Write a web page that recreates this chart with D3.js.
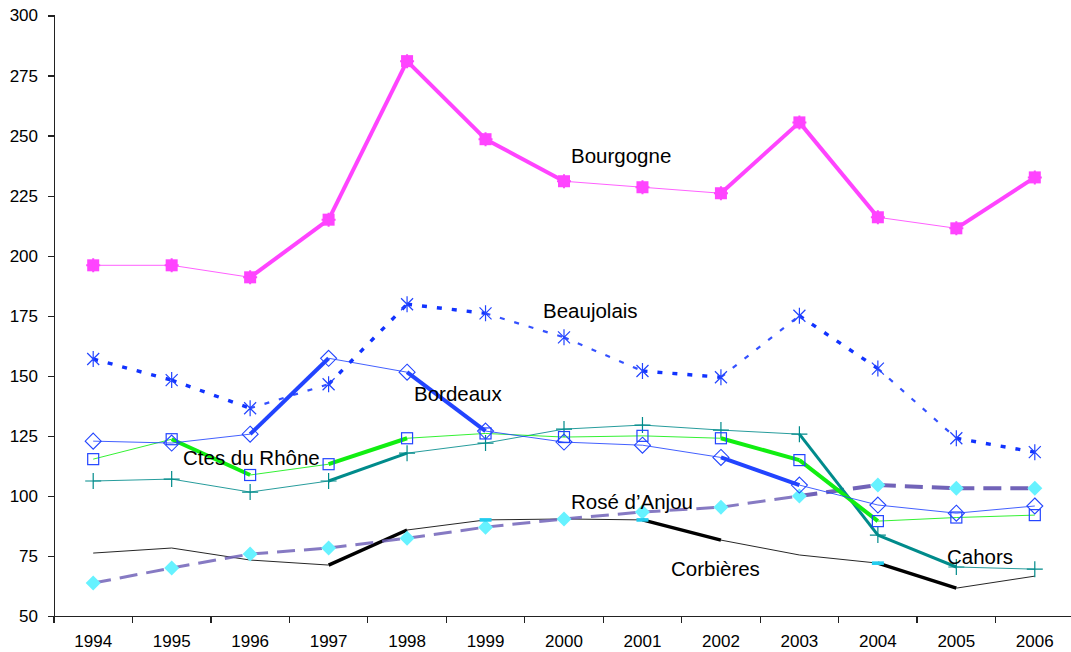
<!DOCTYPE html>
<html>

<head>
  <script type="text/javascript" src="https://d3js.org/d3.v7.min.js"></script>
  <style>
    body { margin: 0; background: #fff; }
    text { font-family: "Liberation Sans", Arial, sans-serif; fill: #000; }
    .axis path, .axis line { stroke: #222; stroke-width: 1.3px; shape-rendering: crispEdges; }
    .axis text { font-size: 17px; }
    .label { font-size: 20.5px; }
  </style>
</head>

<body>
  <script>
    // years on the x axis
    var years = [1994, 1995, 1996, 1997, 1998, 1999, 2000, 2001, 2002, 2003, 2004, 2005, 2006];
    var yTicks = [50, 75, 100, 125, 150, 175, 200, 225, 250, 275, 300];

    // values
    var bourgogne = [196, 196, 191, 215, 281, 248.5, 231, 228.5, 226, 255.5, 216, 211.4, 232.6];
    var beaujolais = [157, 148.2, 136.5, 146.5, 179.8, 176, 166, 152, 149.4, 175, 153, 124, 118.2];
    var bordeaux = [122.8, 122, 125.7, 157.3, 151.5, 127, 122.4, 121.1, 116, 104.5, 96.2, 92.8, 95.8];
    var cotesDuRhone = [115.3, 123.6, 108.7, 113.2, 124, 126, 124.5, 125, 124, 114.9, 89.5, 91, 92];
    var cahors = [106.2, 107, 101.6, 106.2, 117.8, 122, 127.8, 129.5, 127.4, 125.7, 83.7, 70.4, 69.5];
    var corbieres = [76.2, 78.3, 73.3, 71.2, 85.8, 90, 90.4, 90, 81.6, 75.4, 72, 61.6, 66.6];
    var roseAnjou = [63.7, 70, 75.8, 78.3, 82.4, 87, 90.4, 93.3, 95.3, 100, 104.5, 103.2, 103.2];

    // segments (by starting year) that are drawn heavier
    var bourgogneBold = [1996, 1997, 1998, 1999, 2002, 2003, 2005];
    var beaujolaisBold = [1994, 1995, 1997, 1998, 2001, 2003, 2005];
    var bordeauxBold = [1996, 1998, 2002];
    var cotesBold = [1995, 1997, 2002, 2003];
    var cahorsBold = [1997, 2003, 2004];
    var corbieresBold = [1997, 2001, 2004];
    var roseBold = [2003, 2004, 2005];
    // years where Corbières shows its small cyan mark
    var corbieresMarks = [1999, 2001, 2004];

    var series = [
      { name: "Corbières", values: corbieres, bold: corbieresBold, color: "#000", thin: 1, thick: 3.5, dash: null, marker: "none", lx: 671, ly: 576 },
      { name: "Rosé d’Anjou", values: roseAnjou, bold: roseBold, color: "#7163b8", thin: 3, thick: 4, dash: "18,9", marker: "fdiamond", lx: 571, ly: 509 },
      { name: "Cahors", values: cahors, bold: cahorsBold, color: "#008b8b", thin: 1, thick: 3, dash: null, marker: "plus", lx: 947, ly: 564 },
      { name: "Ctes du Rhône", values: cotesDuRhone, bold: cotesBold, color: "#11ee11", thin: 1, thick: 4, dash: null, marker: "square", lx: 183, ly: 465 },
      { name: "Bordeaux", values: bordeaux, bold: bordeauxBold, color: "#2244ff", thin: 1, thick: 4, dash: null, marker: "diamond", lx: 414, ly: 401 },
      { name: "Beaujolais", values: beaujolais, bold: beaujolaisBold, color: "#1133ff", thin: 2.2, thick: 3.4, dash: "5,10", marker: "star", lx: 543, ly: 318 },
      { name: "Bourgogne", values: bourgogne, bold: bourgogneBold, color: "#ff44ff", thin: 1, thick: 4, dash: null, marker: "fsquare", lx: 571, ly: 163 }
    ];

    var width = 1071, height = 652;
    var svg = d3.select("body").append("svg")
      .attr("width", width)
      .attr("height", height);

    var x = d3.scalePoint().domain(years).range([93.2, 1034.8]);
    var xBand = d3.scaleBand().domain(years).range([54, 1074]);
    var y = d3.scaleLinear().domain([50, 300]).range([616, 15.5]);

    // axes
    svg.append("g")
      .attr("class", "axis")
      .attr("transform", "translate(54,0)")
      .call(d3.axisLeft(y).tickValues(yTicks).tickSize(6).tickPadding(10));

    var xAxis = svg.append("g")
      .attr("class", "axis")
      .attr("transform", "translate(0,616)")
      .call(d3.axisBottom(xBand).tickSize(0).tickPadding(19).tickSizeOuter(0));
    xAxis.selectAll(".tick")
      .append("line")
      .attr("x1", -xBand.bandwidth() / 2).attr("x2", -xBand.bandwidth() / 2)
      .attr("y1", 0).attr("y2", 7);

    var line = d3.line()
      .x(function (d) { return x(d.year); })
      .y(function (d) { return y(d.v); });

    series.forEach(function (s) {
      var pts = years.map(function (yr, i) { return { year: yr, v: s.values[i] }; });
      var g = svg.append("g");
      // each segment drawn on its own so it can be thin or thick
      for (var i = 0; i < pts.length - 1; i++) {
        var isBold = s.bold.indexOf(pts[i].year) >= 0;
        g.append("path")
          .datum([pts[i], pts[i + 1]])
          .attr("d", line)
          .attr("fill", "none")
          .attr("stroke", s.color)
          .attr("stroke-width", isBold ? s.thick : s.thin)
          .attr("stroke-dasharray", s.dash)
          .attr("opacity", isBold ? 1 : 0.85);
      }
      // markers
      var m = g.selectAll(".m").data(pts).enter().append("g")
        .attr("transform", function (d) { return "translate(" + x(d.year) + "," + y(d.v) + ")"; });
      if (s.marker === "fsquare") {
        m.append("rect").attr("x", -6).attr("y", -6).attr("width", 12).attr("height", 12)
          .attr("fill", "#ff44ff");
        m.append("path").attr("d", "M-7,0H7M0,-7V7").attr("stroke", "#ff44ff").attr("stroke-width", 2);
      } else if (s.marker === "star") {
        m.append("path").attr("d", "M-6,-6L6,6M-6,6L6,-6M0,-8V8")
          .attr("stroke", "#2244ff").attr("stroke-width", 1.2).attr("fill", "none");
      } else if (s.marker === "diamond") {
        m.append("path").attr("d", "M0,-8L8,0L0,8L-8,0Z")
          .attr("stroke", "#2244ff").attr("stroke-width", 1.1).attr("fill", "none");
      } else if (s.marker === "square") {
        m.append("rect").attr("x", -5.5).attr("y", -5.5).attr("width", 11).attr("height", 11)
          .attr("stroke", "#2244ff").attr("stroke-width", 1.2).attr("fill", "none");
      } else if (s.marker === "plus") {
        m.append("path").attr("d", "M-8,0H8M0,-8V8")
          .attr("stroke", "#008b8b").attr("stroke-width", 1.2).attr("fill", "none");
      } else if (s.marker === "fdiamond") {
        m.append("path").attr("d", "M0,-7.5L7.5,0L0,7.5L-7.5,0Z").attr("fill", "#66f2ff");
      }
    });

    // Corbières cyan marks
    svg.selectAll(".cm").data(corbieresMarks).enter().append("rect")
      .attr("x", function (d) { return x(d) - 6; })
      .attr("y", function (d) { return y(corbieres[years.indexOf(d)]) - 1.8; })
      .attr("width", 12).attr("height", 3.6)
      .attr("fill", "#22ccee");

    // series labels
    svg.selectAll(".label").data(series).enter().append("text")
      .attr("class", "label")
      .attr("x", function (d) { return d.lx; })
      .attr("y", function (d) { return d.ly; })
      .text(function (d) { return d.name; });
  </script>
</body>

</html>
